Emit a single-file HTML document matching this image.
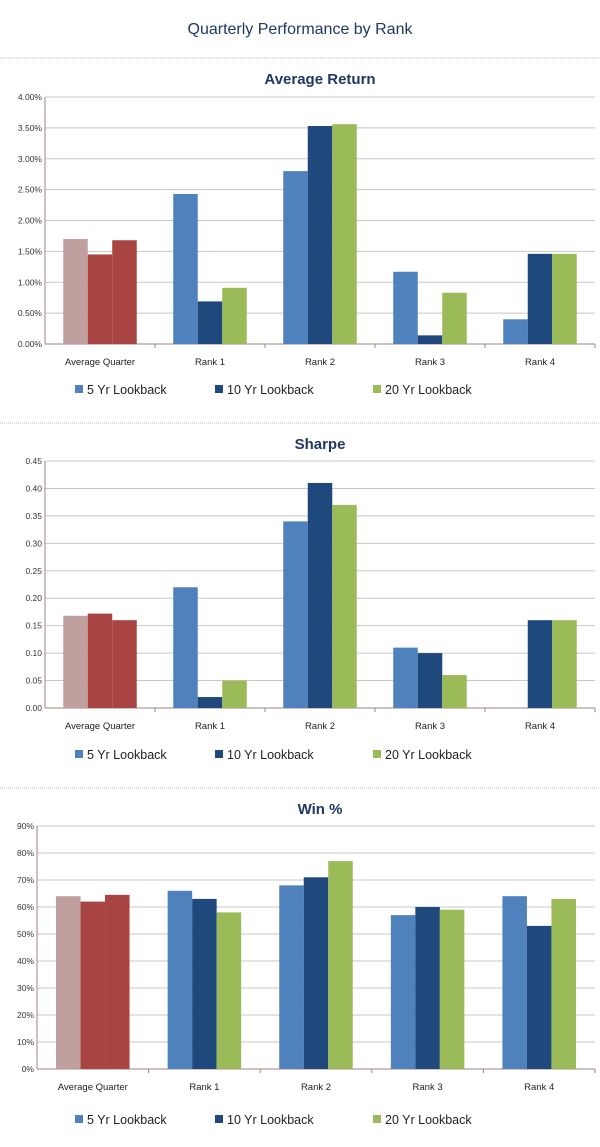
<!DOCTYPE html>
<html><head><meta charset="utf-8"><style>
body{margin:0;background:#fff;}
svg{display:block;font-family:"Liberation Sans",sans-serif;}
</style></head><body>
<svg id="s" width="600" height="1147" viewBox="0 0 600 1147">
<text x="300" y="34" text-anchor="middle" font-size="16" fill="#1f3864">Quarterly Performance by Rank</text>
<line x1="0" y1="58" x2="600" y2="58" stroke="#bbb" stroke-dasharray="1,1"/>
<line x1="0" y1="423" x2="600" y2="423" stroke="#bbb" stroke-dasharray="1,1"/>
<line x1="0" y1="788" x2="600" y2="788" stroke="#bbb" stroke-dasharray="1,1"/>
</svg>
<script>
const categories = ["Average Quarter","Rank 1","Rank 2","Rank 3","Rank 4"];
const seriesNames = ["5 Yr Lookback","10 Yr Lookback","20 Yr Lookback"];
const avgReturn5 = [1.70,2.43,2.80,1.17,0.40];
const avgReturn10 = [1.45,0.69,3.53,0.14,1.46];
const avgReturn20 = [1.68,0.91,3.56,0.83,1.46];
const avgReturnTicks = ["0.00%","0.50%","1.00%","1.50%","2.00%","2.50%","3.00%","3.50%","4.00%"];
const sharpe5 = [0.168,0.22,0.34,0.11,0];
const sharpe10 = [0.172,0.02,0.41,0.10,0.16];
const sharpe20 = [0.160,0.05,0.37,0.06,0.16];
const sharpeTicks = ["0.00","0.05","0.10","0.15","0.20","0.25","0.30","0.35","0.40","0.45"];
const win5 = [64,66,68,57,64];
const win10 = [62,63,71,60,53];
const win20 = [64.5,58,77,59,63];
const winTicks = ["0%","10%","20%","30%","40%","50%","60%","70%","80%","90%"];

const NS="http://www.w3.org/2000/svg";
const svg=document.getElementById('s');
const colors=["#4f81bd","#1f497d","#9bbb59"];
const avgColors=["#c0a09e","#a84442","#a84442"];
function mk(tag,attrs,parent){const e=document.createElementNS(NS,tag);for(const k in attrs)e.setAttribute(k,attrs[k]);(parent||svg).appendChild(e);return e;}

function chart(opt){
  const g=mk('g',{});
  
  
  const t=mk('text',{x:320,y:opt.titleY,'text-anchor':'middle','font-size':15,'font-weight':'bold',fill:'#1f3864'},g);
  t.textContent=opt.title;
  
  
  const n=opt.ticks.length-1;
  const yScale=v=>opt.bottom-(v/opt.max)*(opt.bottom-opt.top);
  opt.ticks.forEach((lab,i)=>{
    const v=opt.max*i/n, y=yScale(v);
    const gl=mk('line',{x1:opt.left,x2:595,y1:y,y2:y,stroke:i==0?'#a08080':'#c8c8c8','stroke-width':1},g);
    
    
    const tl=mk('text',{x:opt.left-3,y:y+3,'text-anchor':'end','font-size':8.5,fill:'#333'},g);
    tl.textContent=lab;
    
    
  });
  mk('line',{x1:opt.left,x2:opt.left,y1:opt.top,y2:opt.bottom,stroke:'#a08080'},g);
  const cw=(595-opt.left)/categories.length, bw=24.5;
  categories.forEach((c,ci)=>{
    const cx=opt.left+cw*ci+cw/2;
    const cl=mk('text',{x:cx,y:opt.bottom+21,'text-anchor':'middle','font-size':9.5,fill:'#222'},g);
    cl.textContent=c;
    
    
    mk('line',{x1:opt.left+cw*(ci+1),x2:opt.left+cw*(ci+1),y1:opt.bottom,y2:opt.bottom+4,stroke:'#a08080'},g);
    opt.series.forEach((arr,si)=>{
      const v=arr[ci], y=yScale(v);
      const r=mk('rect',{x:cx-1.5*bw+si*bw,y:y,width:bw,height:opt.bottom-y,fill:ci==0?avgColors[si]:colors[si]},g);
      
      
    });
  });
  const lx=[75,215,373];
  seriesNames.forEach((s,si)=>{
    const sw=mk('rect',{x:lx[si],y:opt.legendY-8,width:8,height:8,fill:colors[si]},g);
    
    
    const lt=mk('text',{x:lx[si]+12,y:opt.legendY+1,'font-size':12.5,fill:'#222'},g);
    lt.textContent=s;
    
    
  });
}
chart({name:'average-return',title:'Average Return',titleY:84,top:97,bottom:344,left:45,max:4,ticks:avgReturnTicks,series:[avgReturn5,avgReturn10,avgReturn20],legendY:393});
chart({name:'sharpe',title:'Sharpe',titleY:449,top:461,bottom:708,left:45,max:0.45,ticks:sharpeTicks,series:[sharpe5,sharpe10,sharpe20],legendY:758});
chart({name:'win-pct',title:'Win %',titleY:814,top:826,bottom:1069,left:37,max:90,ticks:winTicks,series:[win5,win10,win20],legendY:1123});
</script>
</body></html>
